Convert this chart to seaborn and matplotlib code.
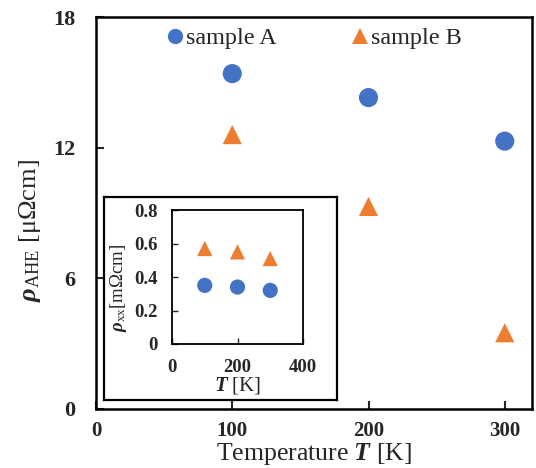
import numpy as np
import pandas as pd
import matplotlib
matplotlib.use("Agg")
import matplotlib.pyplot as plt
import seaborn as sns

# Anomalous Hall resistivity vs temperature
temperature = [100, 200, 300]
rho_ahe_a = [15.4, 14.3, 12.3]
rho_ahe_b = [12.6, 9.3, 3.5]

# Longitudinal resistivity (inset)
rho_xx_a = [0.35, 0.34, 0.32]
rho_xx_b = [0.57, 0.55, 0.51]

samples = ["sample A", "sample B"]
colors = {"sample A": "#4472C4", "sample B": "#ED7D31"}
markers = {"sample A": "o", "sample B": "^"}

sns.set_theme(style="white")
plt.rcParams["font.family"] = ["Liberation Serif", "DejaVu Serif"]
plt.rcParams["mathtext.fontset"] = "custom"
plt.rcParams["mathtext.rm"] = "Liberation Serif"
plt.rcParams["mathtext.it"] = "Liberation Serif:italic:bold"
plt.rcParams["mathtext.bf"] = "Liberation Serif:bold"

main = pd.DataFrame({
    "T": temperature * 2,
    "rho": rho_ahe_a + rho_ahe_b,
    "sample": [samples[0]] * 3 + [samples[1]] * 3,
})
inset = pd.DataFrame({
    "T": temperature * 2,
    "rho": rho_xx_a + rho_xx_b,
    "sample": [samples[0]] * 3 + [samples[1]] * 3,
})

W, H = 536, 468
fig = plt.figure(figsize=(W / 100, H / 100), dpi=100)


def fig_rect(x0, y0, x1, y1):
    return [x0 / W, 1 - y1 / H, (x1 - x0) / W, (y1 - y0) / H]


ax = fig.add_axes(fig_rect(96, 17, 532, 409))
sns.scatterplot(data=main, x="T", y="rho", hue="sample", style="sample",
                palette=colors, markers=markers, s=190, linewidth=0,
                ax=ax, legend=False)
ax.set_xlim(0, 320)
ax.set_ylim(0, 18)
ax.set_xticks([0, 100, 200, 300])
ax.set_yticks([0, 6, 12, 18])
ax.tick_params(direction="in", length=6, width=1.5, labelsize=16,
               left=True, bottom=True)
ax.tick_params(axis="y", pad=15)
ax.tick_params(axis="x", pad=9, labelsize=15)
for lab in ax.get_xticklabels() + ax.get_yticklabels():
    lab.set_fontweight("bold")
for sp in ax.spines.values():
    sp.set_linewidth(1.8)
    sp.set_color("black")
ax.set_xlabel("Temperature $T$ [K]", fontsize=18.5)
ax.xaxis.set_label_coords(0.5, -0.0815)
ax.set_ylabel(r"$\rho_{\rm AHE}$ [μΩcm]", fontsize=19)
ax.yaxis.set_label_coords(-0.122, 0.454)

handles = [
    plt.Line2D([], [], linestyle="none", marker=markers[s], color=colors[s],
               markersize=11, markeredgewidth=0)
    for s in samples
]
ax.legend(handles, samples, loc="center", bbox_to_anchor=(0.501, 0.946),
          ncol=2, frameon=False, fontsize=17.4, handletextpad=0.15,
          columnspacing=3.12, handlelength=0.65, borderaxespad=0,
          borderpad=0)

# Frame holding the inset
box = fig.add_axes(fig_rect(104, 197, 337, 400))
box.set_xticks([])
box.set_yticks([])
box.set_facecolor("white")
for sp in box.spines.values():
    sp.set_linewidth(1.6)
    sp.set_color("black")

axi = fig.add_axes(fig_rect(172, 210, 303, 344))
sns.scatterplot(data=inset, x="T", y="rho", hue="sample", style="sample",
                palette=colors, markers=markers, s=120, linewidth=0,
                ax=axi, legend=False)
axi.set_xlim(0, 400)
axi.set_ylim(0, 0.8)
axi.set_xticks([0, 200, 400])
axi.set_yticks([0, 0.2, 0.4, 0.6, 0.8])
axi.set_yticklabels(["0", "0.2", "0.4", "0.6", "0.8"])
axi.tick_params(direction="in", length=4, width=1, labelsize=13.5,
                left=True, bottom=True)
axi.tick_params(axis="y", pad=10)
axi.tick_params(axis="x", pad=11)
for lab in axi.get_xticklabels() + axi.get_yticklabels():
    lab.set_fontweight("bold")
for sp in axi.spines.values():
    sp.set_linewidth(1.3)
    sp.set_color("black")
axi.set_xlabel("$T$ [K]", fontsize=15)
axi.xaxis.set_label_coords(0.5, -0.235)
axi.set_ylabel(r"$\rho_{\rm xx}$[mΩcm]", fontsize=13.5)
axi.yaxis.set_label_coords(-0.33, 0.42)

fig.savefig("out.png", dpi=100, facecolor="white")
